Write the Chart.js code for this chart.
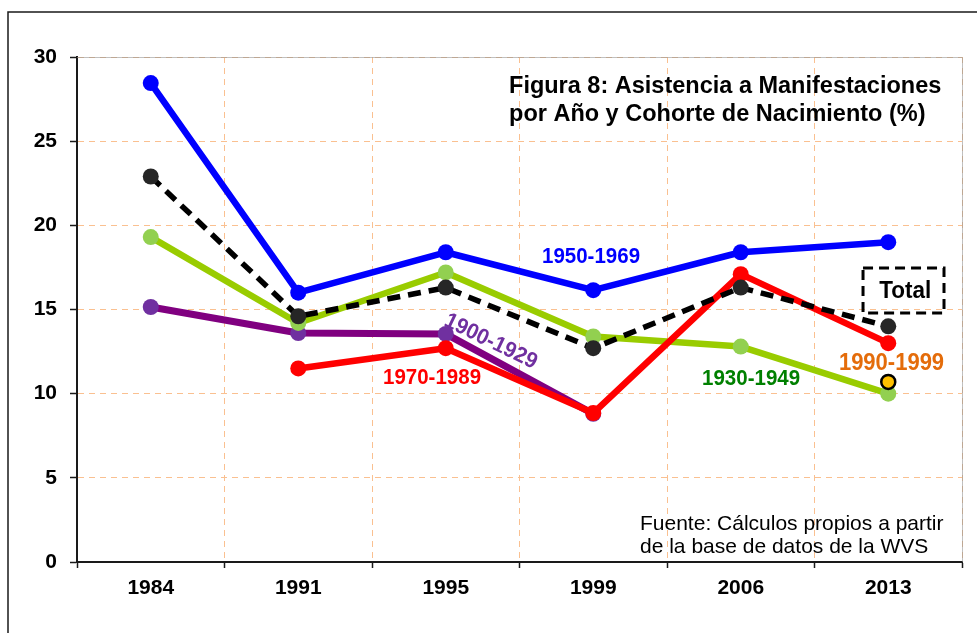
<!DOCTYPE html>
<html>
<head>
<meta charset="utf-8">
<script src="https://cdn.jsdelivr.net/npm/chart.js@4/dist/chart.umd.min.js"></script>
<style>
html,body{margin:0;padding:0;background:#fff;overflow:hidden;}
#c{display:block;}
</style>
</head>
<body>
<canvas id="c" width="977" height="633"></canvas>
<script>
// ---- data ----
const years = ['1984', '1991', '1995', '1999', '2006', '2013'];
const cohort1950_1969 = [28.45, 16.0, 18.4, 16.15, 18.4, 19.0];
const total = [22.9, 14.6, 16.3, 12.7, 16.3, 14.0];
const cohort1930_1949 = [19.3, 14.2, 17.2, 13.4, 12.8, 10.0];
const cohort1900_1929 = [15.15, 13.6, 13.55, 8.8, null, null];
const cohort1970_1989 = [null, 11.5, 12.7, 8.85, 17.1, 13.0];
const cohort1990_1999 = [null, null, null, null, null, 10.7];
const yTicks = [0, 5, 10, 15, 20, 25, 30];

const FONT = "'Liberation Sans', Arial, sans-serif";

// annotations in (category index, value) space
const seriesLabels = [
  {text: '1950-1969', xi: 2.985, yv: 18.21, size: 20.5, color: '#0000FF', angle: 0},
  {text: '1970-1989', xi: 1.907, yv: 11.02, size: 20.5, color: '#FF0000', angle: 0},
  {text: '1930-1949', xi: 4.070, yv: 10.96, size: 20.5, color: '#008000', angle: 0},
  {text: '1990-1999', xi: 5.022, yv: 11.88, size: 22, color: '#E46C0A', angle: 0},
  {text: '1900-1929', xi: 2.310, yv: 13.19, size: 21, color: '#7030A0', angle: 26},
  {text: 'Total', xi: 5.115, yv: 16.16, size: 22.5, color: '#000000', angle: 0}
];
const titleLines = ['Figura 8: Asistencia a Manifestaciones', 'por Año y Cohorte de Nacimiento (%)'];
const sourceLines = ['Fuente: Cálculos propios a partir', 'de la base de datos de la WVS'];

function drawLabel(ctx, text, x, yCap, size, color, align, angleDeg, bold, sy) {
  ctx.save();
  ctx.translate(x, yCap);
  if (angleDeg) ctx.rotate(angleDeg * Math.PI / 180);
  ctx.scale(1, sy);
  ctx.font = (bold ? 'bold ' : '') + size + 'px ' + FONT;
  ctx.fillStyle = color;
  ctx.textAlign = align;
  ctx.textBaseline = 'alphabetic';
  ctx.fillText(text, 0, 0.358 * size);
  ctx.restore();
}

const framePlugin = {
  id: 'frame',
  beforeDraw(chart) {
    const ctx = chart.ctx;
    ctx.save();
    ctx.fillStyle = '#fff';
    ctx.fillRect(0, 0, chart.width, chart.height);
    ctx.strokeStyle = '#1a1a1a';
    ctx.lineWidth = 1.5;
    ctx.beginPath();
    ctx.moveTo(8, chart.height);
    ctx.lineTo(8, 12);
    ctx.lineTo(chart.width, 12);
    ctx.stroke();
    ctx.restore();
  },
  beforeDatasetsDraw(chart) {
    const ctx = chart.ctx;
    const a = chart.chartArea;
    ctx.save();
    ctx.strokeStyle = 'rgba(150,150,150,0.6)';
    ctx.lineWidth = 1;
    ctx.beginPath();
    ctx.moveTo(a.left, a.top + 0.5);
    ctx.lineTo(a.right + 0.5, a.top + 0.5);
    ctx.lineTo(a.right + 0.5, a.bottom);
    ctx.stroke();
    ctx.restore();
  },
  afterDatasetsDraw(chart) {
    const ctx = chart.ctx;
    const xs = chart.scales.x, ys = chart.scales.y;
    const X = v => xs.getPixelForValue(v);
    const Y = v => ys.getPixelForValue(v);
    // title
    drawLabel(ctx, titleLines[0], X(2.429), Y(28.36), 23.5, '#000', 'left', 0, true, 1.0);
    drawLabel(ctx, titleLines[1], X(2.429), Y(26.67), 23.5, '#000', 'left', 0, true, 1.0);
    // Total box
    ctx.save();
    ctx.strokeStyle = '#000';
    ctx.lineWidth = 3;
    ctx.setLineDash([10, 6]);
    const bx0 = X(4.829), bx1 = X(5.378), by0 = Y(17.47), by1 = Y(14.79);
    ctx.strokeRect(bx0, by0, bx1 - bx0, by1 - by0);
    ctx.restore();
    // series labels
    seriesLabels.forEach(l => {
      drawLabel(ctx, l.text, X(l.xi), Y(l.yv), l.size, l.color, 'center', l.angle, true, 1.05);
    });
    // source
    ctx.save();
    ctx.font = '21px ' + FONT;
    ctx.fillStyle = '#000';
    ctx.textAlign = 'left';
    ctx.textBaseline = 'alphabetic';
    ctx.fillText(sourceLines[0], X(3.317), Y(1.90));
    ctx.fillText(sourceLines[1], X(3.317), Y(0.535));
    ctx.restore();
  }
};

const common = {tension: 0, borderJoinStyle: 'round', borderCapStyle: 'round', pointRadius: 8, pointHoverRadius: 8, pointBorderWidth: 0, spanGaps: false};

new Chart(document.getElementById('c'), {
  type: 'line',
  data: {
    labels: years,
    datasets: [
      Object.assign({}, common, {label: '1990-1999', data: cohort1990_1999, borderColor: '#000', backgroundColor: '#FFC000', pointBackgroundColor: '#FFC000', pointBorderColor: '#000', pointBorderWidth: 2.5, pointRadius: 7, borderWidth: 0}),
      Object.assign({}, common, {label: 'Total', data: total, borderColor: '#000000', borderWidth: 5.5, borderDash: [13, 8], borderCapStyle: 'butt', pointBackgroundColor: '#262626', pointBorderColor: '#262626'}),
      Object.assign({}, common, {label: '1950-1969', data: cohort1950_1969, borderColor: '#0000FF', borderWidth: 6.5, pointBackgroundColor: '#0000FF', pointBorderColor: '#0000FF'}),
      Object.assign({}, common, {label: '1970-1989', data: cohort1970_1989, borderColor: '#FF0000', borderWidth: 6.5, pointBackgroundColor: '#FF0000', pointBorderColor: '#FF0000'}),
      Object.assign({}, common, {label: '1930-1949', data: cohort1930_1949, borderColor: '#99CC00', borderWidth: 6.5, pointBackgroundColor: '#92D050', pointBorderColor: '#92D050'}),
      Object.assign({}, common, {label: '1900-1929', data: cohort1900_1929, borderColor: '#800080', borderWidth: 7, pointBackgroundColor: '#7030A0', pointBorderColor: '#7030A0'})
    ]
  },
  options: {
    responsive: false,
    animation: false,
    events: [],
    layout: {padding: {left: 0, right: 15, top: 57, bottom: 0}},
    plugins: {legend: {display: false}, tooltip: {enabled: false}, title: {display: false}},
    scales: {
      x: {
        type: 'category',
        offset: true,
        grid: {offset: true, color: '#FAC090', lineWidth: 1, tickLength: 6, tickColor: '#1a1a1a', tickWidth: 1.5},
        border: {display: true, color: '#1a1a1a', width: 2, dash: [6, 5]},
        ticks: {color: '#000', font: {family: FONT, size: 21, weight: 'bold'}, padding: 8, maxRotation: 0, autoSkip: false},
        afterFit(s) { s.height = 71; }
      },
      y: {
        min: 0, max: 30,
        afterBuildTicks(s) { s.ticks = yTicks.map(v => ({value: v})); },
        grid: {color: '#FAC090', lineWidth: 1, tickLength: 7, tickColor: '#1a1a1a', tickWidth: 1.5},
        border: {display: true, color: '#1a1a1a', width: 2, dash: [6, 5]},
        ticks: {color: '#000', font: {family: FONT, size: 21, weight: 'bold'}, padding: 13},
        afterFit(s) { s.width = 77; }
      }
    }
  },
  plugins: [framePlugin]
});
</script>
</body>
</html>
